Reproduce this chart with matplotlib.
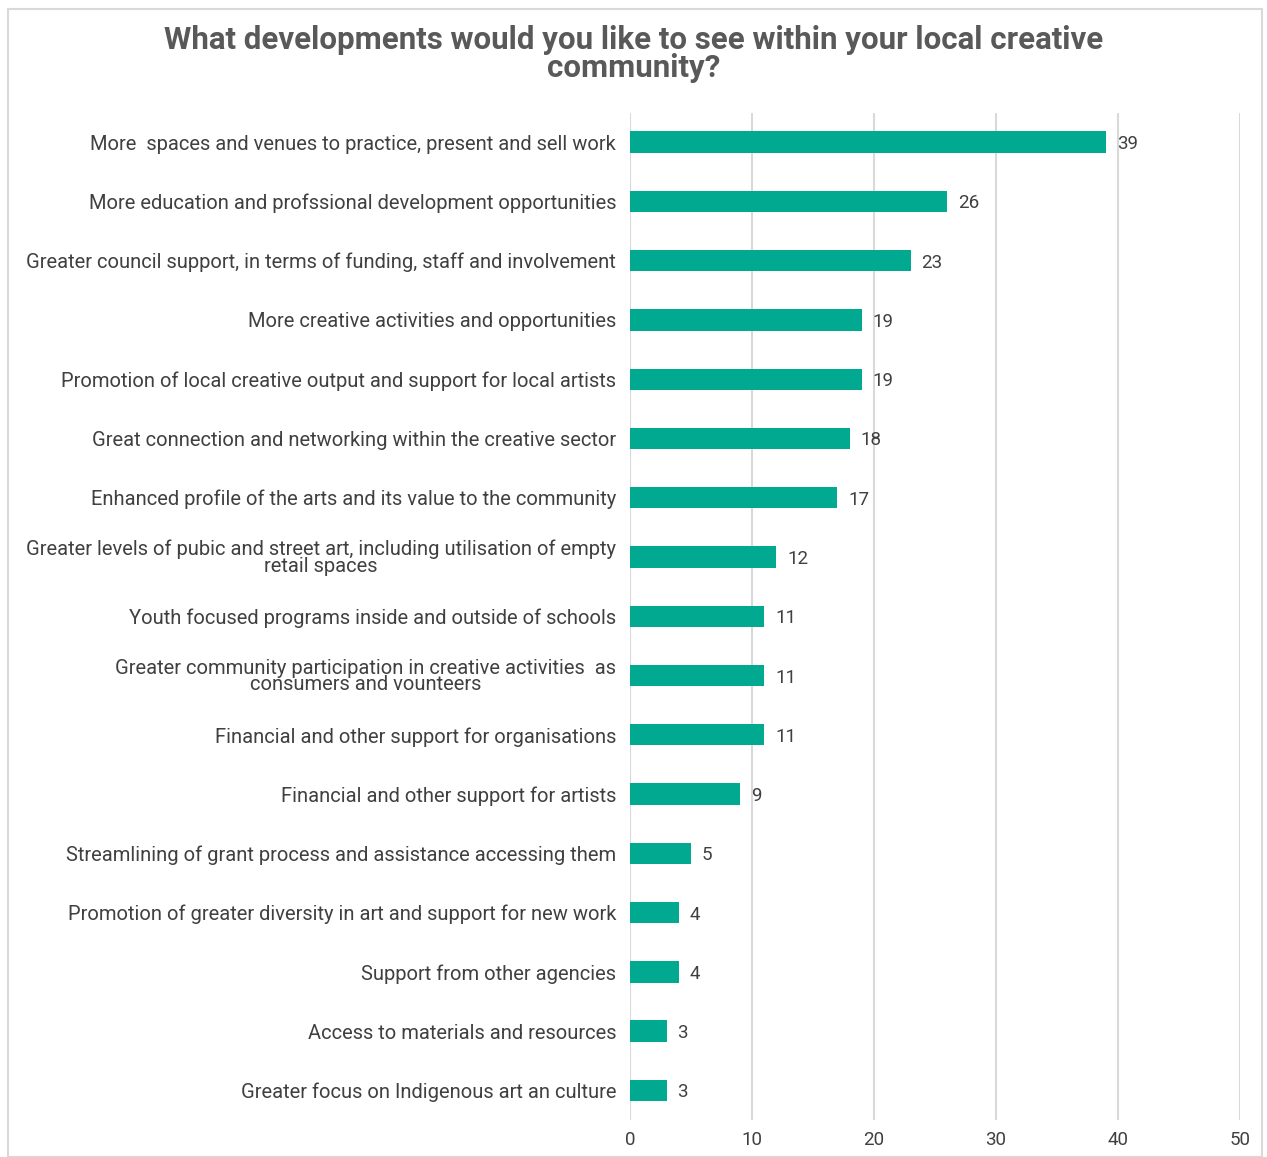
import numpy as np
import matplotlib
import matplotlib.pyplot as plt
from matplotlib.patches import Rectangle

categories = [
    "More  spaces and venues to practice, present and sell work",
    "More education and profssional development opportunities",
    "Greater council support, in terms of funding, staff and involvement",
    "More creative activities and opportunities",
    "Promotion of local creative output and support for local artists",
    "Great connection and networking within the creative sector",
    "Enhanced profile of the arts and its value to the community",
    "Greater levels of pubic and street art, including utilisation of empty\nretail spaces",
    "Youth focused programs inside and outside of schools",
    "Greater community participation in creative activities  as\nconsumers and vounteers",
    "Financial and other support for organisations",
    "Financial and other support for artists",
    "Streamlining of grant process and assistance accessing them",
    "Promotion of greater diversity in art and support for new work",
    "Support from other agencies",
    "Access to materials and resources",
    "Greater focus on Indigenous art an culture",
]
values = [39, 26, 23, 19, 19, 18, 17, 12, 11, 11, 11, 9, 5, 4, 4, 3, 3]
xticks = [0, 10, 20, 30, 40, 50]

matplotlib.rcParams['font.family'] = 'Roboto'
text_col = "#404040"
bar_col = "#00A98F"

fig = plt.figure(figsize=(12.67, 11.57), dpi=100)
ax = fig.add_axes([630 / 1267, 1 - 1120 / 1157, 610 / 1267, (1120 - 112.5) / 1157])

y = np.arange(len(values))
ax.barh(y, values, height=0.36, color=bar_col, zorder=3)
for yi, v in zip(y, values):
    ax.text(v + 0.9, yi, str(v), va="center_baseline", ha="left", fontsize=13.5, color=text_col, zorder=4)

ax.set_ylim(len(values) - 0.5, -0.5)
ax.set_xlim(0, 50)
ax.set_xticks(xticks)
ax.set_xticklabels([str(t) for t in xticks], fontsize=13.5, color=text_col)
ax.set_yticks(y)
ax.set_yticklabels(categories, fontsize=14.5, color=text_col, linespacing=0.85, ha="right", multialignment="center")
ax.tick_params(axis="both", length=0)
ax.tick_params(axis="y", pad=10)
ax.tick_params(axis="x", pad=8)
ax.grid(axis="x", color="#D9D9D9", linewidth=1.5, zorder=0)
for s in ax.spines.values():
    s.set_visible(False)

fig.text(0.5, 1 - 54 / 1157, "What developments would you like to see within your local creative\ncommunity?",
         ha="center", va="center", fontsize=22.5, fontweight="bold", color="#595959", linespacing=0.95)

fig.patches.append(Rectangle((8 / 1267, 0), 1254 / 1267, 1 - 9 / 1157, transform=fig.transFigure,
                             fill=False, edgecolor="#D9D9D9", linewidth=1.5))

plt.savefig("out.png", dpi=100)
